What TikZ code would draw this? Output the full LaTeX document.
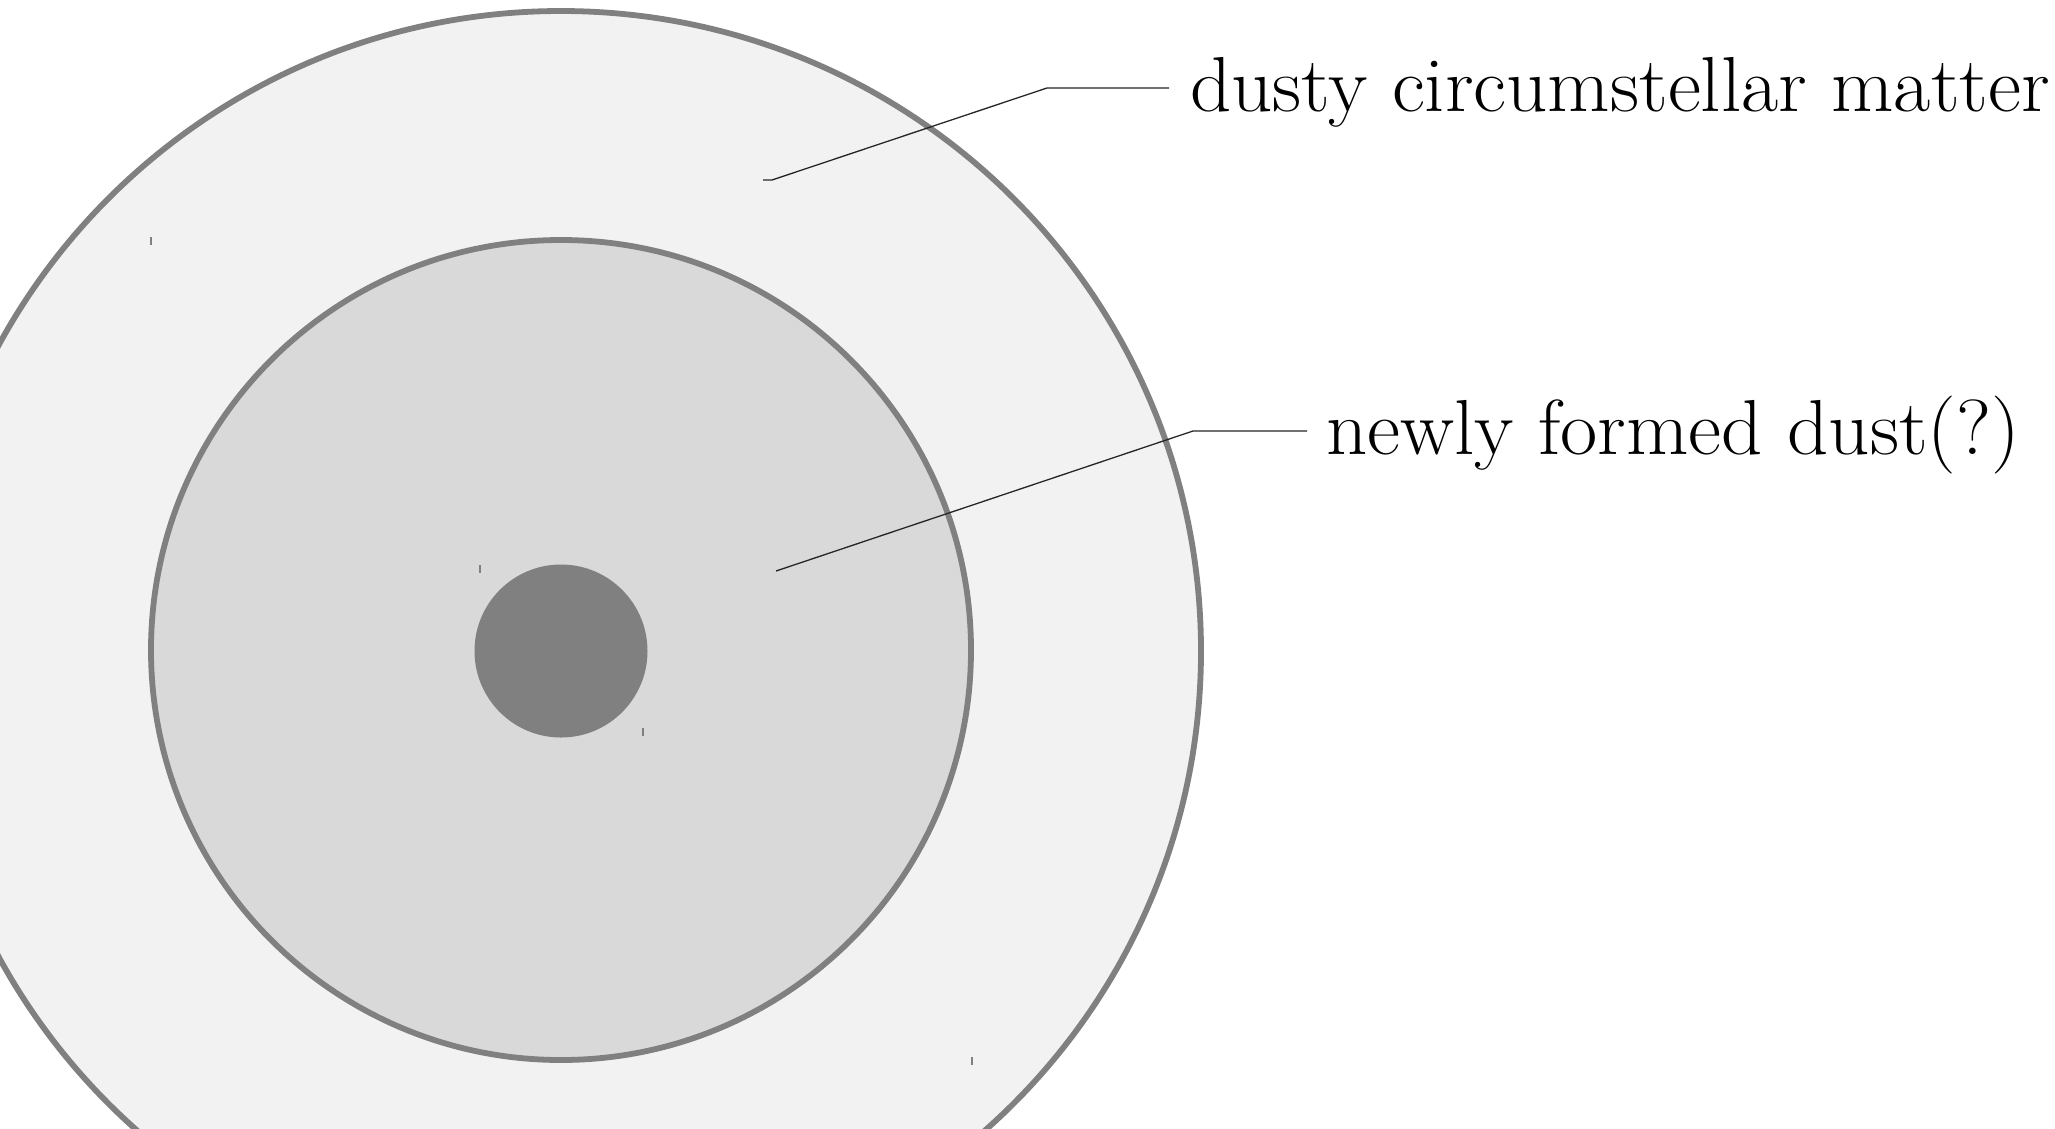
\documentclass[tikz,border=0pt]{standalone}
\usepackage{fontspec}
\setmainfont{Latin Modern Roman}
\newfontfamily\lblfont[FakeStretch=1.037]{Latin Modern Roman}
\definecolor{ringgray}{RGB}{128,128,128}
\definecolor{outerfill}{RGB}{242,242,242}
\definecolor{innerfill}{RGB}{217,217,217}
\definecolor{coregray}{RGB}{128,128,128}
\begin{document}
\begin{tikzpicture}[x=1pt,y=-1pt,
  ring/.style={draw=ringgray, line width=5.8pt},
  leader/.style={draw=black!85, line width=1.3pt},
  tickmark/.style={draw=ringgray, line width=1.3pt},
  lbl/.style={inner sep=0pt, anchor=base west, font=\lblfont\fontsize{78}{86}\selectfont}]
\useasboundingbox (0,0) rectangle (2055,1128);
\fill[white] (0,0) rectangle (2055,1128);
\begin{scope}
  \clip (0,0) rectangle (2055,1128);
  \path[ring, fill=outerfill] (561,651) circle[radius=640];
\end{scope}
\path[ring, fill=innerfill] (561,650) circle[radius=410];
\fill[coregray] (561,651) circle[radius=86.5];
% small tick marks
\draw[tickmark] (151,237) -- (151,245);
\draw[tickmark] (480,565) -- (480,573);
\draw[tickmark] (643,728) -- (643,736);
\draw[tickmark] (972,1057) -- (972,1065);
% labels
\node[lbl] (dcm) at (1190,111.4) {dusty circumstellar matter};
\node[lbl] (nfd) at (1326,454.8) {newly formed dust(?)};
% leaders
\coordinate (a1) at (763,180);
\coordinate (b1) at (772,180);
\coordinate (k1) at (1047,88);
\coordinate (e1) at (1169,88);
\draw[leader] (a1) -- (b1) -- (k1) -- (e1);
\coordinate (a2) at (776,571);
\coordinate (k2) at (1193,431);
\coordinate (e2) at (1307,431);
\draw[leader] (a2) -- (k2) -- (e2);
\end{tikzpicture}
\end{document}
